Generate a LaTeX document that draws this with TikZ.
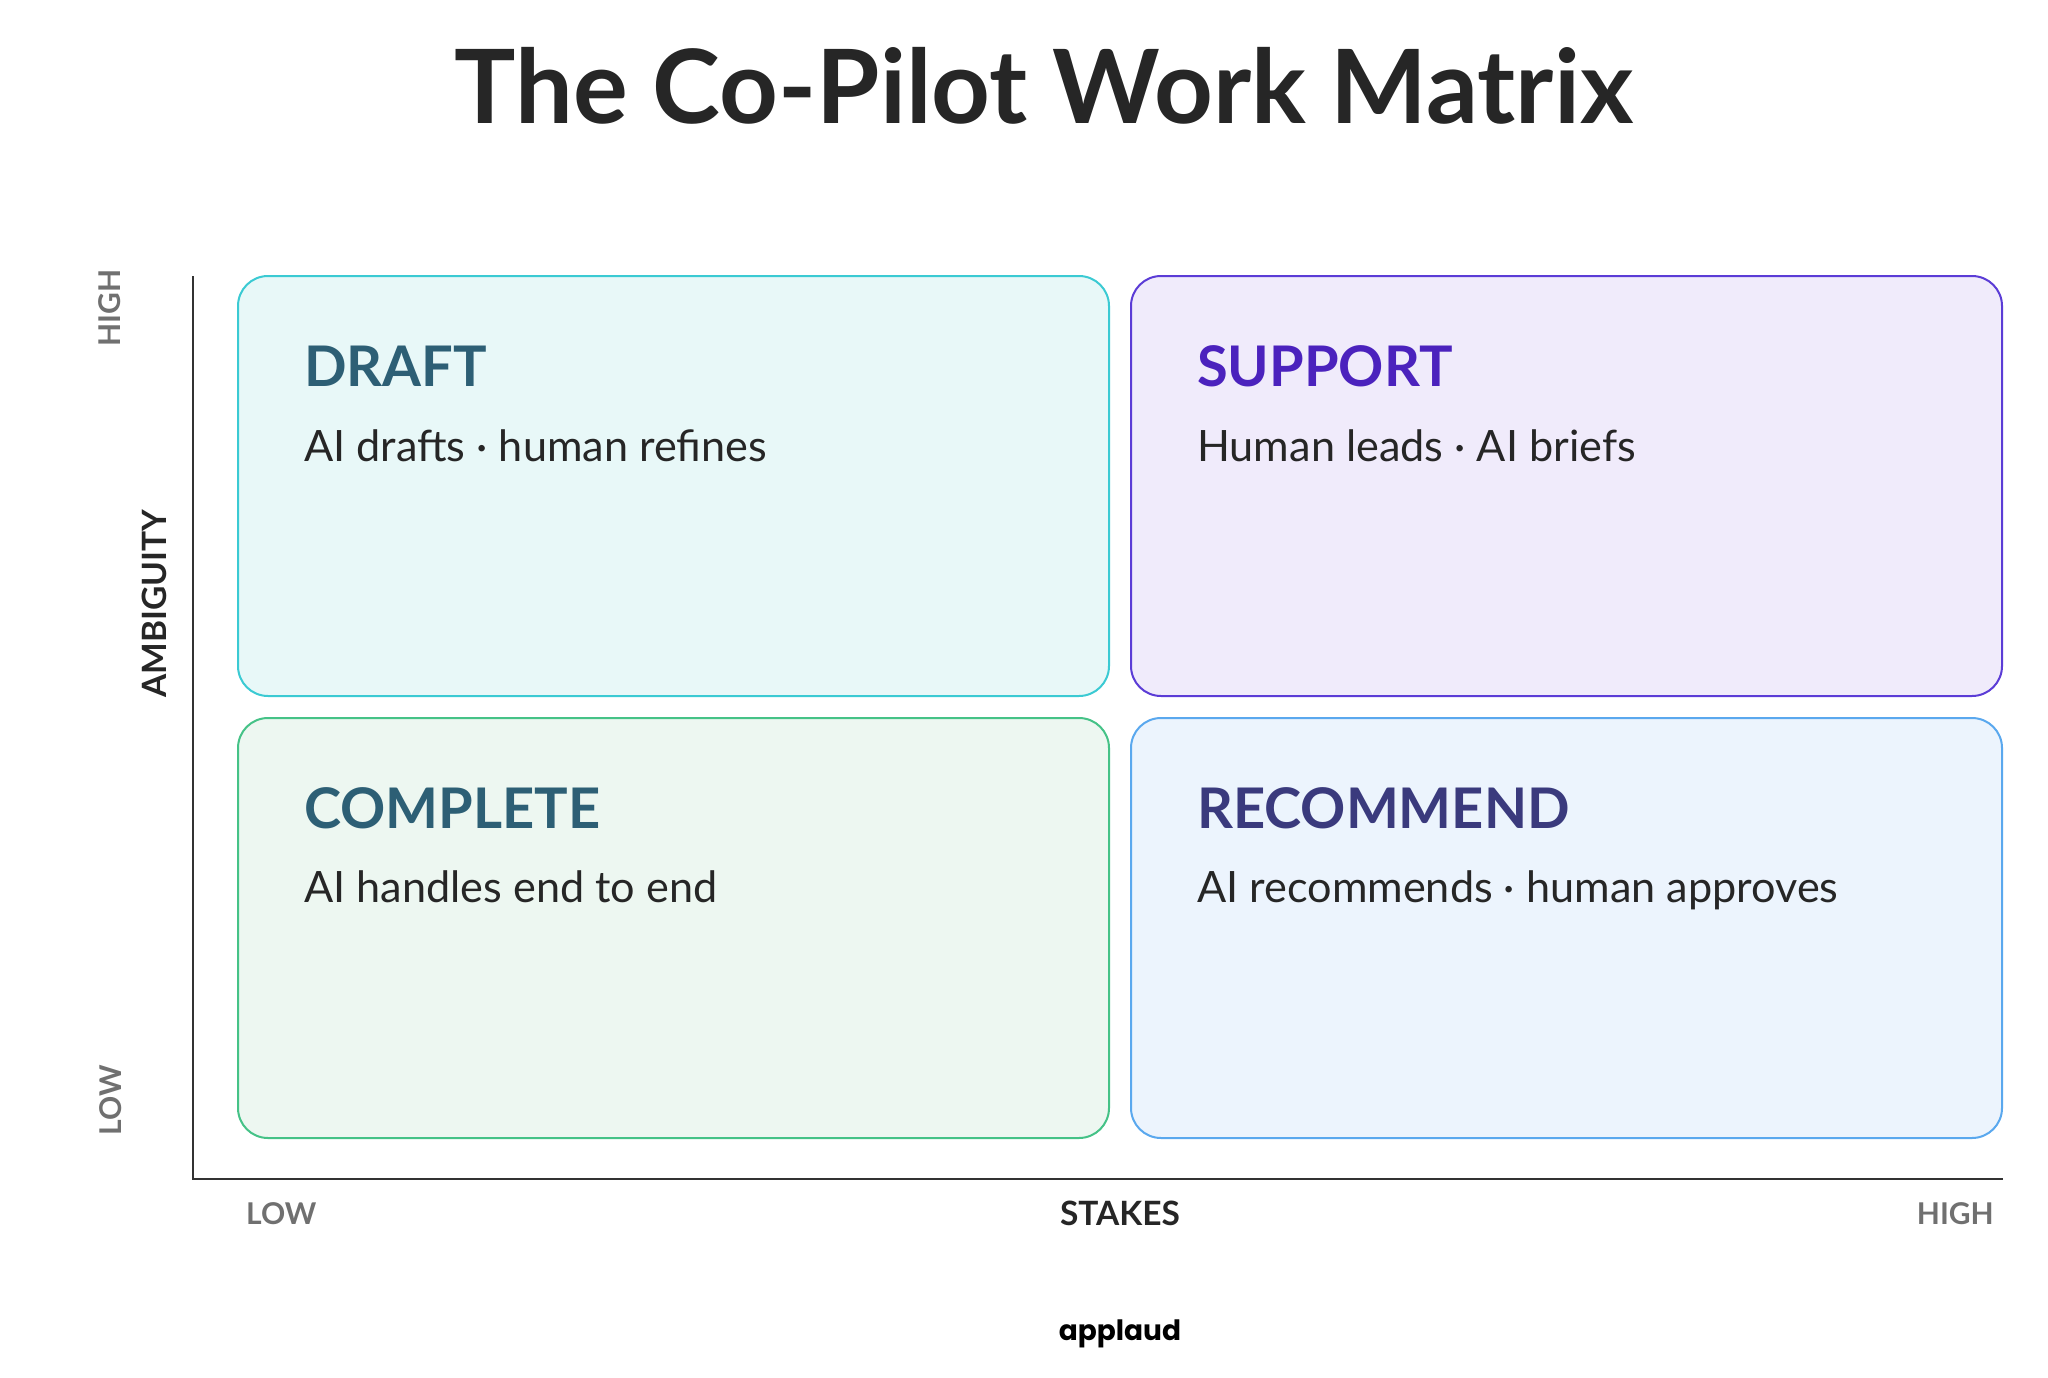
\documentclass[tikz,border=0pt]{standalone}
\usepackage{fontspec}
\setmainfont{Lato}
\newfontfamily\logofont{Poppins}
\usetikzlibrary{calc}
\definecolor{ink}{HTML}{262626}
\definecolor{axisc}{HTML}{333333}
\definecolor{greyc}{HTML}{707070}
\definecolor{tlfill}{HTML}{E8F8F8}
\definecolor{tldraw}{HTML}{3BCAD3}
\definecolor{trfill}{HTML}{F0EBFB}
\definecolor{trdraw}{HTML}{5B3CD6}
\definecolor{blfill}{HTML}{EDF7F1}
\definecolor{bldraw}{HTML}{45C287}
\definecolor{brfill}{HTML}{ECF4FD}
\definecolor{brdraw}{HTML}{5AA8EE}
\definecolor{tealtxt}{HTML}{2D5F75}
\definecolor{purptxt}{HTML}{4B22BD}
\definecolor{navytxt}{HTML}{3A3A7D}
\tikzset{
  quad/.style={rectangle, rounded corners=30pt, line width=2pt,
    minimum width=871pt, minimum height=420pt, inner sep=0pt},
  qhead/.style={anchor=base west, inner sep=0pt, font=\fontsize{56}{60}\selectfont\bfseries},
  qsub/.style={anchor=base west, inner sep=0pt, text=ink, font=\fontsize{43.2}{48}\selectfont},
  tick/.style={inner sep=0pt, text=greyc, font=\fontsize{30}{32}\selectfont\bfseries},
  axlabel/.style={inner sep=0pt, text=ink, font=\fontsize{33.5}{36}\selectfont\bfseries},
}
\begin{document}
\begin{tikzpicture}[x=1pt,y=-1pt]
\useasboundingbox (0,0) rectangle (2048,1378);
% title
\node[anchor=base, inner sep=0pt, text=ink, font=\fontsize{102.5}{104}\selectfont\bfseries] (title) at (1044,124) {The Co-Pilot Work Matrix};
% quadrants
\node[quad, fill=tlfill, draw=tldraw] (tl) at (673.5,486) {};
\node[quad, fill=trfill, draw=trdraw] (tr) at (1566.5,486) {};
\node[quad, fill=blfill, draw=bldraw] (bl) at (673.5,928) {};
\node[quad, fill=brfill, draw=brdraw] (br) at (1566.5,928) {};
% quadrant texts
\node[qhead, text=tealtxt] (tlh) at ($(tl.north west)+(67,111)$) {DRAFT};
\node[qsub] (tls) at ($(tl.north west)+(67,186)$) {AI drafts · human refines};
\node[qhead, text=purptxt] (trh) at ($(tr.north west)+(67,111)$) {SUPPORT};
\node[qsub] (trs) at ($(tr.north west)+(67,186)$) {Human leads · AI briefs};
\node[qhead, text=tealtxt] (blh) at ($(bl.north west)+(67,111)$) {COMPLETE};
\node[qsub] (bls) at ($(bl.north west)+(67,185)$) {AI handles end to end};
\node[qhead, text=navytxt] (brh) at ($(br.north west)+(67,111)$) {RECOMMEND};
\node[qsub] (brs) at ($(br.north west)+(67,185)$) {AI recommends · human approves};
% axes
\coordinate (ytop) at (193,276);
\coordinate (origin) at (193,1179);
\coordinate (xend) at (2003,1179);
\draw[axisc, line width=2pt] (ytop) -- (origin) -- (xend);
% axis labels
\node[tick, rotate=90] (yhigh) at (110,308) {HIGH};
\node[tick, rotate=90] (ylow) at (111,1100) {LOW};
\node[axlabel, rotate=90] (ylab) at (154.5,604) {AMBIGUITY};
\node[tick, anchor=base west] (xlow) at (246,1224) {LOW};
\node[axlabel, anchor=base] (xlab) at (1120,1225) {STAKES};
\node[tick, anchor=base east] (xhigh) at (1994,1224) {HIGH};
% logo
\node[anchor=base, inner sep=0pt, text=black, font=\logofont\fontsize{28}{30}\selectfont\bfseries] (logo) at (1120,1340) {applaud};
\end{tikzpicture}
\end{document}
